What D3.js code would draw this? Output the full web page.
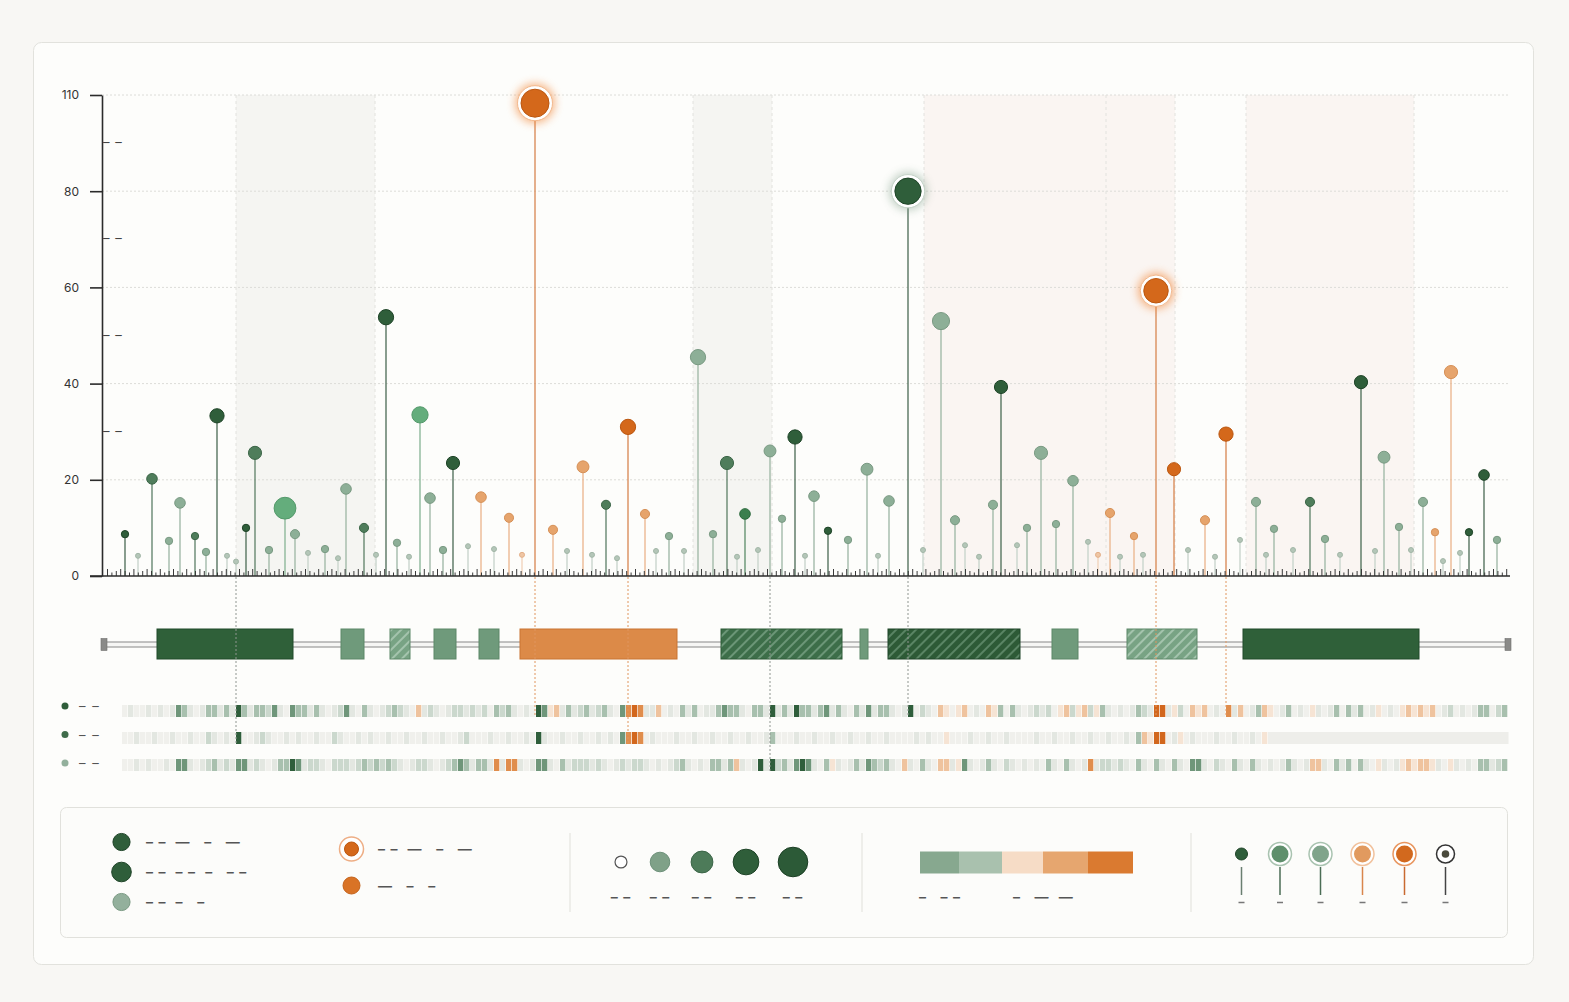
<!DOCTYPE html>
<html>
<head>
<meta charset="utf-8">
<script src="https://cdn.jsdelivr.net/npm/d3@7"></script>
<style>
html, body { margin: 0; padding: 0; background: #f8f7f4; }
svg { display: block; font-family: Inter, "Noto Sans", sans-serif; }
svg text { white-space: pre; }
</style>
</head>
<body>
<script>
// mutation lollipops: residue position, frequency, class, sample count
const mutPos = [18,31,45,62,73,88,99,110,120,129,
    139,148,162,178,188,201,218,231,239,257,
    269,279,290,302,313,323,336,346,361,374,
    387,402,415,428,446,460,476,485,499,510,
    521,538,549,562,577,591,606,620,630,638,
    651,663,675,688,698,707,721,741,760,771,
    782,801,816,834,848,858,872,886,894,910,
    920,934,949,966,981,991,1003,1013,1027,1036,
    1049,1067,1081,1098,1108,1119,1133,1149,1159,1167,
    1186,1203,1218,1233,1254,1268,1277,1292,1304,1316,
    1328,1336,1344,1353,1362,1377,1390]
const mutValue = [8.7,4.2,20.2,7.3,15.2,8.3,5.0,33.3,4.2,3.0,
    10.0,25.6,5.4,14.1,8.7,4.8,5.6,3.7,18.1,10.0,
    4.4,53.8,6.9,4.0,33.5,16.2,5.4,23.5,6.2,16.4,
    5.6,12.1,4.4,98.3,9.6,5.2,22.7,4.4,14.8,3.7,
    31.0,12.9,5.2,8.3,5.2,45.5,8.7,23.5,4.0,12.9,
    5.4,26.0,11.9,28.9,4.2,16.6,9.4,7.5,22.2,4.2,
    15.6,80.0,5.4,53.0,11.6,6.4,4.0,14.8,39.3,6.4,
    10.0,25.6,10.8,19.8,7.1,4.4,13.1,4.0,8.3,4.4,
    59.3,22.2,5.4,11.6,4.0,29.5,7.5,15.4,4.4,9.8,
    5.4,15.4,7.7,4.4,40.3,5.2,24.7,10.2,5.4,15.4,
    9.1,3.1,42.4,4.8,9.1,21.0,7.5]
const mutType = ['dk','tn','md','lt','lt','md','lt','dk','tn','tn',
    'dk','md','lt','br','lt','tn','lt','tn','lt','md',
    'tn','dk','lt','tn','br','lt','lt','dk','tn','lo',
    'tn','lo','to','or','lo','tn','lo','tn','md','tn',
    'or','lo','tn','lt','tn','lt','lt','md','tn','bd',
    'tn','lt','lt','dk','tn','lt','dk','lt','lt','tn',
    'lt','dk','tn','lt','lt','tn','tn','lt','dk','tn',
    'lt','lt','lt','lt','tn','to','lo','tn','lo','tn',
    'or','or','tn','lo','tn','or','tn','lt','tn','lt',
    'tn','md','lt','tn','dk','tn','lt','lt','tn','lt',
    'lo','tn','lo','tn','dk','dk','lt']
const mutCount = [2,1,4,2,4,2,2,7,1,1,
    2,6,2,16,3,1,2,1,4,3,
    1,8,2,1,9,4,2,6,1,4,
    1,3,1,26,3,1,5,1,3,1,
    8,3,1,2,1,8,2,6,1,4,
    1,5,2,7,1,4,2,2,5,1,
    4,23,1,10,3,1,1,3,6,1,
    2,6,2,4,1,1,3,1,2,1,
    20,6,1,3,1,7,1,3,1,2,
    1,3,2,1,6,1,5,2,1,3,
    2,1,6,1,2,4,2]

const hotspotPos = [428, 801, 1049]
const dropPos = [129, 428, 521, 663, 801, 1049, 1119]
const dropRow = [2, 1, 2, 3, 1, 1, 1]
const dropKind = ['g', 'o', 'o', 'g', 'g', 'o', 'o']

const yTickValues = [0, 20, 40, 60, 80, 100]
const yTickLabels = ['0', '20', '40', '60', '80', '110']
const yMinorValues = [30, 50, 70, 90]

// domains shaded behind the plot
const bandStart = [129, 586, 817, 1139]
const bandEnd = [268, 665, 1068, 1307]
const bandKind = ['g', 'g', 'p', 'p']
const bandEdges = [129, 268, 586, 665, 817, 999, 1068, 1139, 1307]

// gene model
const exonStart = [50, 234, 283, 327, 372, 413, 614, 753, 781, 945, 1020, 1136]
const exonEnd = [186, 257, 303, 349, 392, 570, 735, 761, 913, 971, 1090, 1312]
const exonKind = ['dk', 'md', 'mdh', 'md', 'md', 'or', 'dkh', 'md', 'dkh2', 'md', 'mdh', 'dk']

// heat tracks, one character per bin
const heatRow1 = [".:..:.:.:3","2:.:22:2:4","2:2213:.32","2:2:.:13:.","2:.:121:.b",":1:.:11:1:",
    "1.212:.:.4","3ab:2:12:1","2:.3cdc::b",".:.2:2.::2","322:.22:4:","2:422:23:2",
    ":.2:3:22:.",":4.1:.ba.a","b.:.ba2.2:",".:1:1.ab1a","b1a2:.:.:2","1:dd:a1.ba",
    "b.:.c:b.:2","ba.:2.:.a:",".:2.2:2.:a",".:.ababab.",":1.:.:22.1","2"].join('')
const heatRow2 = ["..:..:..:.",".:..1:.:.4","..:1:..:.:","..:..1:..:",".:..:..:..",":..:..:1..",
    ".:..:..:.4",":..:..:..:",".:.3cdc.:.","..:..:..:.",".:..:..:2.","..:..:..:.",
    ".:..:..:..","..:.:..a..",".:..:..:..","..:..:..:.",".:..:..:.2","badd.:a.:.",
    "..:..:..:.","a_________","__________","__________","__________","_"].join('')
const heatRow3 = ["..:.:..:.3","3:.:12:1:3","3:1:.:2243",":11:.111:1","212121:.:1","1:.:1232:2",
    "2:c:cc:.:3","3:.2:111:1",":.:1:11:.:",".:12:.:.22",":2b:.:4:41","2:343:.2a:",
    ".:2:3212:.","b:.2:.bb:a","3:.:2:.1:.",":.:.2:.2:.",":c:11:1:.2",":.2:.2:.33",
    ":.1:.2:.2:",".:.:2:.:bb",":.2:2.2:.a",":.:ababba:",".a:.:.22:1","2"].join('')

// legend content
const statusKinds = ['dk', 'dk', 'lt']
const statusCounts = [10, 13, 10]
const statusLabels = ['– –  —   –   —', '– –  – –  –   – –', '– –  –   –']
const hotLabels = ['– –  —   –   —', '—   –   –']
const sizeCounts = [5, 13, 16, 22, 29]
const sizeLabels = ['– –', '– –', '– –', '– –', '– –']
const scaleColors = ['#87a88f', '#a9c1ae', '#f6dcc6', '#e6a66f', '#da7a30']
const scaleLabels = ['–   – –', '–   —  —']
const markerKinds = ['dk', 'md', 'lt', 'lo', 'or', 'ref']
const trackLabels = ['– –', '– –', '– –']

const fillC = {dk:'#2f5e3a', md:'#4f7d5b', lt:'#8daf97', br:'#64ad7c', bd:'#3b7f4e', or:'#d4681b', lo:'#e6a46c', tn:'#b4c6b8', to:'#efc6a4'}
const strokeC = {dk:'#1e4327', md:'#3b6547', lt:'#7a9a83', br:'#54996b', bd:'#2c6a3d', or:'#bb560f', lo:'#d69158', tn:'#a2b6a7', to:'#e3af88'}
const stemC = {dk:'#4b6a54', md:'#5c7f66', lt:'#9cb5a3', br:'#86b394', bd:'#5a8b68', or:'#d88650', lo:'#ebb48a', tn:'#c6d3c9', to:'#f1d2b9'}

function main(){
    var width = 1569;
    var height = 1002;

    let svg = d3.select('body')
        .append('svg')
        .attr('width', width)
        .attr('height', height)

    const defs = svg.append('defs')

    function hatch(id, bg, line){
        const p = defs.append('pattern')
            .attr('id', id)
            .attr('patternUnits', 'userSpaceOnUse')
            .attr('width', 7).attr('height', 7)
            .attr('patternTransform', 'rotate(45)')
        p.append('rect').attr('width', 7).attr('height', 7).attr('fill', bg)
        p.append('line').attr('x1', 1).attr('y1', 0).attr('x2', 1).attr('y2', 7)
            .attr('stroke', line).attr('stroke-width', 1.1)
    }
    hatch('hatchMd', '#78a384', '#c9dfcf')
    hatch('hatchDk', '#3d6e49', '#92b79d')
    hatch('hatchDk2', '#2d5a36', '#7fa88a')

    const blur = defs.append('filter').attr('id', 'blur')
        .attr('x', '-100%').attr('y', '-100%').attr('width', '300%').attr('height', '300%')
    blur.append('feGaussianBlur').attr('stdDeviation', 4)

    // card
    svg.append('rect')
        .attr('x', 33.5).attr('y', 42.5)
        .attr('width', 1500).attr('height', 922)
        .attr('rx', 8)
        .attr('fill', '#fdfdfb')
        .attr('stroke', '#e2e2dd')

    let xScale = d3.scaleLinear()
        .domain([0, 1400])
        .range([107, 1507]);
    let yScale = d3.scaleLinear()
        .domain([0, 100])
        .range([576, 95]);
    let rScale = d3.scaleSqrt()
        .domain([1, 26])
        .range([2.5, 14]);

    const g = svg.append('g')

    // shaded bands
    g.selectAll('rect.band')
        .data(bandStart)
        .enter()
        .append('rect')
        .attr('class', 'band')
        .attr('x', d => xScale(d))
        .attr('y', yScale(100))
        .attr('width', (d, i) => xScale(bandEnd[i]) - xScale(d))
        .attr('height', yScale(0) - yScale(100))
        .attr('fill', (d, i) => bandKind[i] == 'g' ? '#f5f5f2' : '#faf5f2')

    // grid
    g.selectAll('line.grid')
        .data(yTickValues.slice(1))
        .enter()
        .append('line')
        .attr('x1', 102).attr('x2', 1510)
        .attr('y1', d => yScale(d)).attr('y2', d => yScale(d))
        .attr('stroke', '#dcdcd8')
        .attr('stroke-dasharray', '2,2')

    g.selectAll('line.edge')
        .data(bandEdges)
        .enter()
        .append('line')
        .attr('x1', d => xScale(d)).attr('x2', d => xScale(d))
        .attr('y1', yScale(100)).attr('y2', yScale(0))
        .attr('stroke', '#e2e2de')
        .attr('stroke-dasharray', '3,3')

    // rug of residue ticks along the baseline
    let rugGenerator = d3.axisBottom(xScale)
        .tickValues(d3.range(0, 1401, 4.4))
        .tickFormat('')
        .tickSizeOuter(0)
        .tickSize(-5)
    let rug = svg.append('g')
        .attr('transform', `translate(0,${yScale(0)})`)
        .call(rugGenerator)
    rug.select('.domain').remove()
    rug.selectAll('.tick line')
        .attr('stroke', '#3a3a3a')
        .attr('y2', (d, i) => i % 3 == 0 ? -7 : (i % 2 ? -3.5 : -5))

    svg.append('line')
        .attr('x1', 90).attr('x2', 1510)
        .attr('y1', yScale(0)).attr('y2', yScale(0))
        .attr('stroke', '#2b2b2b')
        .attr('stroke-width', 1.6)

    // stems
    g.selectAll('line.stem')
        .data(mutPos)
        .enter()
        .append('line')
        .attr('x1', d => xScale(d)).attr('x2', d => xScale(d))
        .attr('y1', yScale(0))
        .attr('y2', (d, i) => yScale(mutValue[i]) + rScale(mutCount[i]) - 1)
        .attr('stroke', (d, i) => stemC[mutType[i]])
        .attr('stroke-width', 1.3)

    // halos behind hotspot heads
    hotspotPos.forEach(p => {
        const i = mutPos.indexOf(p)
        const cx = xScale(p), cy = yScale(mutValue[i]), r = rScale(mutCount[i])
        const orange = mutType[i] == 'or'
        g.append('circle')
            .attr('cx', cx).attr('cy', cy).attr('r', r + 6)
            .attr('fill', orange ? '#f2883a' : '#7d9c86')
            .attr('opacity', orange ? 0.6 : 0.45)
            .attr('filter', 'url(#blur)')
        g.append('circle')
            .attr('cx', cx).attr('cy', cy).attr('r', r + 3.5)
            .attr('fill', '#fff')
            .attr('stroke', orange ? '#f3b98e' : '#c5d3c8')
            .attr('stroke-width', 1)
    })

    g.selectAll('circle.head')
        .data(mutPos)
        .enter()
        .append('circle')
        .attr('class', 'head')
        .attr('cx', d => xScale(d))
        .attr('cy', (d, i) => yScale(mutValue[i]))
        .attr('r', (d, i) => rScale(mutCount[i]))
        .attr('fill', (d, i) => fillC[mutType[i]])
        .attr('stroke', (d, i) => strokeC[mutType[i]])
        .attr('stroke-width', 1)

    // y axis
    let yAxisGenerator = d3.axisLeft(yScale)
        .tickValues(yTickValues)
        .tickFormat((d, i) => yTickLabels[i])
        .tickSize(12)
        .tickSizeOuter(0)
        .tickPadding(11)
    let yAxis = svg.append('g')
        .attr('transform', `translate(${102},${0})`)
        .call(yAxisGenerator)
    yAxis.select('.domain').attr('stroke', '#2b2b2b').attr('stroke-width', 1.6)
    yAxis.selectAll('.tick line').attr('stroke', '#2b2b2b').attr('stroke-width', 1.6)
    yAxis.selectAll('.tick text')
        .attr('font-size', 12)
        .attr('font-family', 'Inter, sans-serif')
        .attr('fill', '#333')

    svg.selectAll('text.minor')
        .data(yMinorValues)
        .enter()
        .append('text')
        .attr('x', 103)
        .attr('y', d => yScale(d) + 4)
        .attr('font-size', 13)
        .attr('letter-spacing', 1)
        .attr('fill', '#444')
        .text('– –')

    // gene track
    const trackY = 644.5
    svg.append('rect')
        .attr('x', 104).attr('y', trackY - 2.5)
        .attr('width', 1404).attr('height', 5)
        .attr('fill', '#f6f6f4')
        .attr('stroke', '#9c9c9a')
        .attr('stroke-width', 1.2)
    svg.selectAll('rect.cap')
        .data([0, 1400])
        .enter()
        .append('rect')
        .attr('x', d => d == 0 ? 101 : 1505)
        .attr('y', trackY - 6)
        .attr('width', 6).attr('height', 12)
        .attr('fill', '#8a8a88')
        .attr('stroke', '#6f6f6d')
        .attr('stroke-width', 0.6)

    const exonFill = {dk:'#2f6039', md:'#6f9a7b', mdh:'url(#hatchMd)', or:'#dc8a48', dkh:'url(#hatchDk)', dkh2:'url(#hatchDk2)'}
    const exonStroke = {dk:'#214a2a', md:'#5d8769', mdh:'#5d8769', or:'#c97432', dkh:'#2d5a37', dkh2:'#1f4528'}
    svg.selectAll('rect.exon')
        .data(exonStart)
        .enter()
        .append('rect')
        .attr('x', d => xScale(d))
        .attr('y', 629)
        .attr('width', (d, i) => xScale(exonEnd[i]) - xScale(d))
        .attr('height', 30)
        .attr('fill', (d, i) => exonFill[exonKind[i]])
        .attr('stroke', (d, i) => exonStroke[exonKind[i]])
        .attr('stroke-width', 1)

    // heat tracks
    const rowY = [705, 732, 759]
    const heatRows = [heatRow1, heatRow2, heatRow3]
    const heatColor = d3.scaleOrdinal()
        .domain(['_', '.', ':', '1', '2', '3', '4', 'a', 'b', 'c', 'd'])
        .range(['#eeeeea', '#f0f0ec', '#e3e7e1', '#cbd8cd', '#a8c0ae', '#6f967a', '#2f5e3b', '#f6e4d4', '#efc39e', '#e08d4c', '#d2671d'])
    const cellX = d3.scaleBand()
        .domain(d3.range(heatRow1.length))
        .range([122, 1508])

    heatRows.forEach((row, r) => {
        svg.append('g')
            .selectAll('rect')
            .data(row.split(''))
            .enter()
            .append('rect')
            .attr('x', (d, i) => cellX(i))
            .attr('y', rowY[r])
            .attr('width', d => d == '_' ? cellX.bandwidth() + 0.5 : cellX.bandwidth() - 0.7)
            .attr('height', 12)
            .attr('fill', d => heatColor(d))
    })

    // drop lines linking hotspots to the tracks
    svg.selectAll('line.drop')
        .data(dropPos)
        .enter()
        .append('line')
        .attr('x1', d => xScale(d)).attr('x2', d => xScale(d))
        .attr('y1', yScale(0) + 1)
        .attr('y2', (d, i) => rowY[dropRow[i] - 1] + 12)
        .attr('stroke', (d, i) => dropKind[i] == 'o' ? '#e0955e' : '#8f9690')
        .attr('stroke-width', 1)
        .attr('stroke-dasharray', '2,2')

    // track labels
    const trackDot = ['#2f5e3a', '#3f6c4a', '#93b09c']
    svg.selectAll('circle.tl')
        .data(trackLabels)
        .enter()
        .append('circle')
        .attr('cx', 65)
        .attr('cy', (d, i) => rowY[i] + 1 + i * 1.5)
        .attr('r', 3.5)
        .attr('fill', (d, i) => trackDot[i])
    svg.selectAll('text.tl')
        .data(trackLabels)
        .enter()
        .append('text')
        .attr('x', 79)
        .attr('y', (d, i) => rowY[i] + 6 + i * 1.5)
        .attr('font-size', 13)
        .attr('letter-spacing', 1.5)
        .attr('fill', '#555')
        .text(d => d)

    // legend
    const lg = svg.append('g')
    lg.append('rect')
        .attr('x', 60.5).attr('y', 807.5)
        .attr('width', 1447).attr('height', 130)
        .attr('rx', 6)
        .attr('fill', '#fcfcfa')
        .attr('stroke', '#e1e1dc')
    lg.selectAll('line.sep')
        .data([570, 862, 1191])
        .enter()
        .append('line')
        .attr('x1', d => d).attr('x2', d => d)
        .attr('y1', 833).attr('y2', 912)
        .attr('stroke', '#e4e4df')
        .attr('stroke-width', 1.2)

    const labelStyle = sel => sel.attr('font-size', 14)
        .attr('letter-spacing', 1)
        .attr('fill', '#555')
        .attr('font-weight', 600)

    statusKinds.forEach((k, i) => {
        lg.append('circle')
            .attr('cx', 121.5).attr('cy', 842 + i * 30)
            .attr('r', rScale(statusCounts[i]))
            .attr('fill', k == 'lt' ? '#93b09c' : fillC[k])
            .attr('stroke', strokeC[k])
        lg.append('text')
            .attr('x', 146).attr('y', 847 + i * 30)
            .call(labelStyle)
            .text(statusLabels[i])
    })

    lg.append('circle').attr('cx', 351.5).attr('cy', 849).attr('r', 12)
        .attr('fill', '#fff').attr('stroke', '#eeae85').attr('stroke-width', 1.5)
    lg.append('circle').attr('cx', 351.5).attr('cy', 849).attr('r', 7)
        .attr('fill', fillC.or).attr('stroke', strokeC.or)
    lg.append('circle').attr('cx', 351.5).attr('cy', 885.5).attr('r', 8.5)
        .attr('fill', '#d97326').attr('stroke', '#c4621a')
    hotLabels.forEach((t, i) => {
        lg.append('text')
            .attr('x', 378).attr('y', 854 + i * 36.5)
            .call(labelStyle)
            .text(t)
    })

    const sizeX = [621, 660, 702, 746, 793]
    sizeCounts.forEach((c, i) => {
        lg.append('circle')
            .attr('cx', sizeX[i]).attr('cy', 862)
            .attr('r', rScale(c))
            .attr('fill', ['#fff', '#7fa188', '#4d7b59', '#2f5e3a', '#2c5a37'][i])
            .attr('stroke', ['#555', '#6e917a', '#3b6547', '#1e4327', '#1b3f24'][i])
            .attr('stroke-width', i == 0 ? 1.2 : 1)
        lg.append('text')
            .attr('x', sizeX[i]).attr('y', 902)
            .attr('text-anchor', 'middle')
            .call(labelStyle)
            .text(sizeLabels[i])
    })

    const scaleX = [920, 959, 1002, 1043, 1088, 1133]
    lg.selectAll('rect.scale')
        .data(scaleColors)
        .enter()
        .append('rect')
        .attr('x', (d, i) => scaleX[i])
        .attr('y', 851.5)
        .attr('width', (d, i) => scaleX[i + 1] - scaleX[i])
        .attr('height', 22)
        .attr('fill', d => d)
    lg.append('text').attr('x', 919).attr('y', 902).call(labelStyle).text(scaleLabels[0])
    lg.append('text').attr('x', 1013).attr('y', 902).call(labelStyle).text(scaleLabels[1])

    const markerX = [1241.5, 1280, 1320.5, 1362.5, 1404.5, 1445.5]
    const markerStem = {dk:'#6a7f70', md:'#4b6d55', lt:'#4b6d55', lo:'#d9864c', or:'#c96a30', ref:'#444'}
    const markerRing = {md:'#a9c3b0', lt:'#a9c3b0', lo:'#f1c19c', or:'#e8965f'}
    markerKinds.forEach((k, i) => {
        const cx = markerX[i]
        lg.append('line')
            .attr('x1', cx).attr('x2', cx)
            .attr('y1', 867).attr('y2', 895)
            .attr('stroke', markerStem[k]).attr('stroke-width', 1.5)
        if (k == 'dk') {
            lg.append('circle').attr('cx', cx).attr('cy', 854).attr('r', 6)
                .attr('fill', fillC.dk).attr('stroke', strokeC.dk)
        } else if (k == 'ref') {
            lg.append('circle').attr('cx', cx).attr('cy', 854).attr('r', 9)
                .attr('fill', '#fff').attr('stroke', '#333').attr('stroke-width', 1.5)
            lg.append('circle').attr('cx', cx).attr('cy', 854).attr('r', 3.8)
                .attr('fill', '#4a4a3c')
        } else {
            lg.append('circle').attr('cx', cx).attr('cy', 854).attr('r', 11.5)
                .attr('fill', '#fff').attr('stroke', markerRing[k]).attr('stroke-width', 1.5)
            lg.append('circle').attr('cx', cx).attr('cy', 854).attr('r', 8.5)
                .attr('fill', {md:'#5f8f6c', lt:'#80a48b', lo:'#e19a5f', or:'#d2691e'}[k])
        }
        lg.append('line')
            .attr('x1', cx - 3).attr('x2', cx + 3)
            .attr('y1', 902.5).attr('y2', 902.5)
            .attr('stroke', '#777').attr('stroke-width', 1.5)
    })
}

main()
</script>
</body>
</html>
